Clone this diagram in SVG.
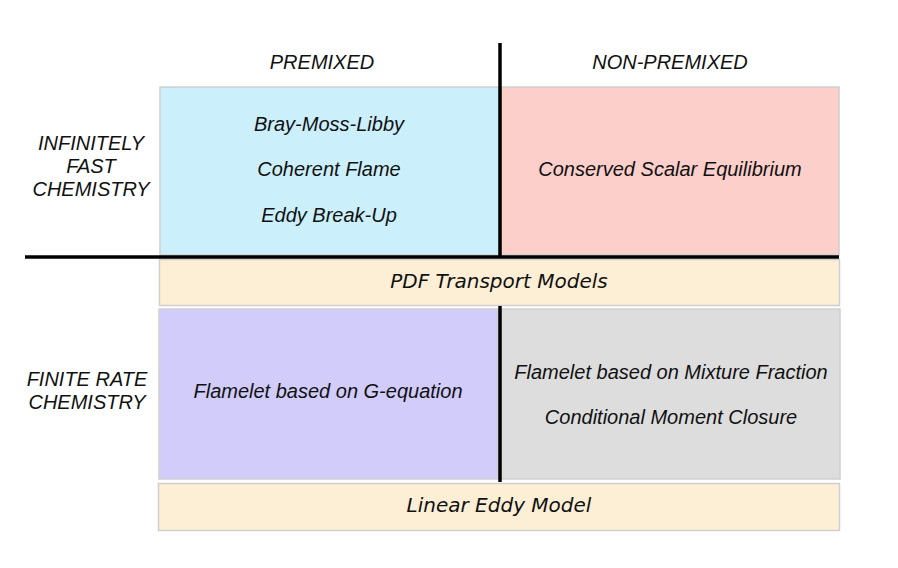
<svg xmlns="http://www.w3.org/2000/svg" width="898" height="568" viewBox="0 0 898 568">
<style>
.box{stroke:#cfcfcf;stroke-width:1.5}
.t{font-family:"Liberation Sans",Arial,sans-serif;font-style:italic;font-size:20px;fill:#111;text-anchor:middle}
.v{font-family:"DejaVu Sans",Verdana,sans-serif;font-style:italic;font-size:20px;fill:#111;text-anchor:middle}
.ax{stroke:#000;stroke-width:3.5;fill:none}
</style>
<rect width="898" height="568" fill="#fff"/>
<g id="fast-premixed"><rect class="box" x="160" y="87" width="339" height="168" fill="#cceffc"/>
<text class="t" x="329" y="131">Bray-Moss-Libby</text>
<text class="t" x="329" y="176">Coherent Flame</text>
<text class="t" x="329" y="222">Eddy Break-Up</text></g>
<g id="fast-nonpremixed"><rect class="box" x="501" y="87" width="338" height="168" fill="#fccfcb"/>
<text class="t" x="670" y="176">Conserved Scalar Equilibrium</text></g>
<g id="pdf"><rect class="box" x="159.5" y="259.5" width="680" height="46" fill="#fdefd5"/>
<text class="v" x="499" y="288">PDF Transport Models</text></g>
<g id="finite-premixed"><rect class="box" x="159" y="309" width="339" height="170" fill="#d2ccfb"/>
<text class="t" x="328" y="398">Flamelet based on G-equation</text></g>
<g id="finite-nonpremixed"><rect class="box" x="501" y="309" width="339" height="170" fill="#dddddd"/>
<text class="t" x="671" y="379">Flamelet based on Mixture Fraction</text>
<text class="t" x="671" y="424">Conditional Moment Closure</text></g>
<g id="led"><rect class="box" x="158.5" y="483.5" width="681" height="47" fill="#fdefd5"/>
<text class="v" x="499" y="512">Linear Eddy Model</text></g>
<g id="labels">
<text class="t" x="322" y="69">PREMIXED</text>
<text class="t" x="670" y="69">NON-PREMIXED</text>
<text class="t" x="91" y="150">INFINITELY</text>
<text class="t" x="91" y="173">FAST</text>
<text class="t" x="91" y="196">CHEMISTRY</text>
<text class="t" x="87" y="386">FINITE RATE</text>
<text class="t" x="87" y="409">CHEMISTRY</text></g>
<g id="connectors">
<line class="ax" x1="500" y1="43" x2="500" y2="258"/>
<line class="ax" x1="25" y1="257" x2="839" y2="257"/>
<line class="ax" x1="500" y1="306" x2="500" y2="482"/>
</g>
</svg>
